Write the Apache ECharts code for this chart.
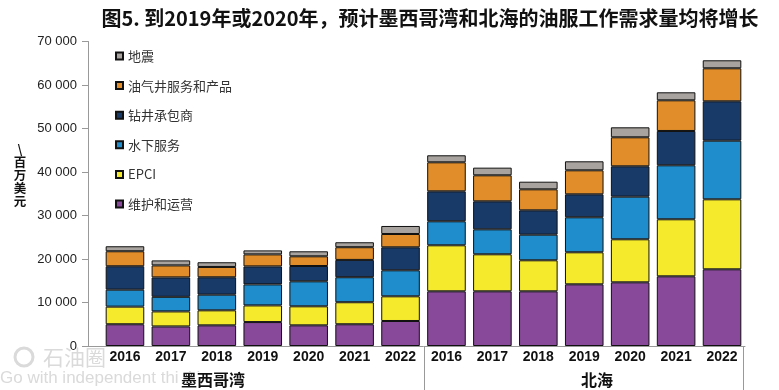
<!DOCTYPE html>
<html><head><meta charset="utf-8">
<script src="https://cdn.jsdelivr.net/npm/echarts@6/dist/echarts.min.js"></script>
<style>html,body{margin:0;padding:0;background:#fff}#c{width:779px;height:390px}</style>
</head><body><div id="c"></div>
<script>
const categories = ['2016','2017','2018','2019','2020','2021','2022','2016','2017','2018','2019','2020','2021','2022'];
const groupNames = ['墨西哥湾','北海'];
const seriesNames = ['维护和运营','EPCI','水下服务','钻井承包商','油气井服务和产品','地震'];
const maintenance = [5000,4500,4750,5500,4750,5000,5750, 12570,12570,12570,14180,14640,16020,17630];
const epci        = [4050,3450,3450,3830,4370,5060,5670, 10580,8510,7130,7360,9890,13110,16090];
const subsea      = [3900,3360,3600,4830,5750,5750,5980, 5520,5740,5890,8050,9800,12410,13480];
const drilling    = [5380,4460,4000,4140,3520,3980,5290, 6890,6440,5600,5280,6980,7890,9050];
const wellServices= [3450,2760,2370,2760,2230,2920,3060, 6670,5980,4830,5520,6670,7050,7590];
const seismic     = [1150,1150,1080,920,1150,1140,1840, 1610,1760,1750,2070,2290,1840,1840];
const yTicks = [0,10000,20000,30000,40000,50000,60000,70000];

const values = [maintenance, epci, subsea, drilling, wellServices, seismic];
const colors = ['#88499A','#F5EA2C','#1F8CCB','#183A69','#E08D2A','#A8A39E'];

const chart = echarts.init(document.getElementById('c'));
const series = seriesNames.map((n,i)=>({
  name:n, type:'bar', stack:'total', data:values[i], barWidth:'84%',
  itemStyle:{color:colors[i], borderColor:'#111', borderWidth:1},
  z:3
}));
const fmt = v => { const s = String(v); return s.length>3 ? s.slice(0,s.length-3)+' '+s.slice(-3) : s; };

chart.setOption({
  animation:false,
  grid:{left:102, right:34, top:41.5, bottom:44},
  legend:{
    orient:'vertical', left:110, top:44, itemWidth:7, itemHeight:7, itemGap:15.6,
    icon:'rect',
    data:seriesNames.slice().reverse(),
    textStyle:{fontSize:13, color:'#333', fontFamily:'"Noto Sans CJK SC", "Liberation Sans"', lineHeight:14}
  },
  xAxis:{
    type:'category', data:categories,
    axisLine:{lineStyle:{color:'#999'}}, axisTick:{show:false},
    axisLabel:{color:'#111', fontWeight:'bold', fontSize:14, fontFamily:'"Liberation Sans", Arial', margin:4, interval:0}
  },
  yAxis:{
    type:'value', min:yTicks[0], max:yTicks[yTicks.length-1], interval:10000, offset:14,
    axisLine:{show:true, lineStyle:{color:'#999'}},
    axisTick:{show:true, length:6, lineStyle:{color:'#999'}},
    splitLine:{show:false},
    axisLabel:{formatter:fmt, color:'#222', fontSize:13, fontFamily:'"Liberation Sans", Arial', margin:11}
  },
  series:series,
  graphic:[
    {type:'text', z:0, style:{text:'石油圈', x:43, y:357, textVerticalAlign:'middle', font:'21px "Noto Sans CJK SC"', fill:'#dadada'}},
    {type:'text', z:0, style:{text:'Go with independent thinking', x:0, y:378, textVerticalAlign:'middle', font:'17px "Liberation Sans"', fill:'#dadada'}},
    {type:'circle', z:0, shape:{cx:24, cy:357, r:9}, style:{fill:'none', stroke:'#dadada', lineWidth:3}},
    {type:'text', style:{text:'图5. 到2019年或2020年，预计墨西哥湾和北海的油服工作需求量均将增长', x:430, y:18, textAlign:'center', textVerticalAlign:'middle', font:'bold 20px "Noto Sans CJK SC"', fill:'#111'}},
    {type:'text', style:{text:'\\\n百\n万\n美\n元', x:20, y:175, textAlign:'center', textVerticalAlign:'middle', font:'bold 12.5px "Noto Sans CJK SC"', lineHeight:13, fill:'#111'}},
    {type:'line', shape:{x1:88, y1:346.5, x2:102, y2:346.5}, style:{stroke:'#999', lineWidth:1}},
    {type:'line', shape:{x1:424.5, y1:346, x2:424.5, y2:390}, style:{stroke:'#999', lineWidth:1}},
    {type:'line', shape:{x1:743.5, y1:346, x2:743.5, y2:390}, style:{stroke:'#999', lineWidth:1}},
    {type:'text', z:5, style:{text:groupNames[0], x:213, y:380, textAlign:'center', textVerticalAlign:'middle', font:'bold 16px "Noto Sans CJK SC"', fill:'#111', backgroundColor:'#fff', padding:[0,2]}},
    {type:'text', z:5, style:{text:groupNames[1], x:597, y:380, textAlign:'center', textVerticalAlign:'middle', font:'bold 16px "Noto Sans CJK SC"', fill:'#111'}}
  ]
});
</script></body></html>
